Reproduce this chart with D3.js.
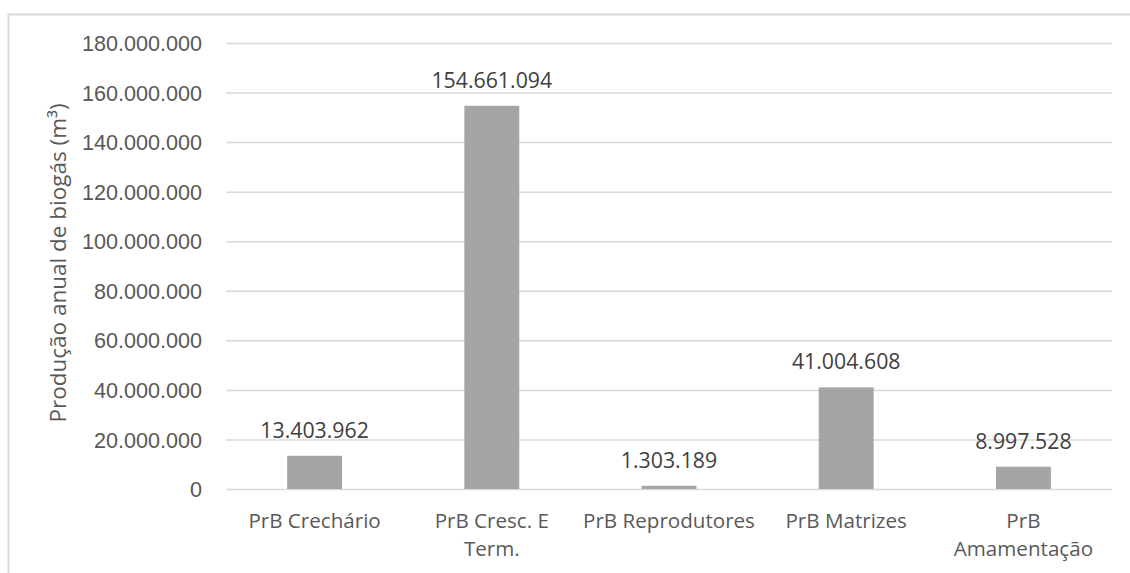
<!DOCTYPE html>
<html>
<head>
<meta charset="utf-8">
<script src="https://cdn.jsdelivr.net/npm/d3@7"></script>
<style>
  html, body { margin: 0; padding: 0; background: #fff; }
  svg { display: block; font-family: "Open Sans", sans-serif; }
</style>
</head>
<body>
<svg id="chart" width="1130" height="573"></svg>
<script>
// Produção anual de biogás por categoria de rebanho
const categories = [
  ["PrB Crechário"],
  ["PrB Cresc. E", "Term."],
  ["PrB Reprodutores"],
  ["PrB Matrizes"],
  ["PrB", "Amamentação"]
];
const values = [13403962, 154661094, 1303189, 41004608, 8997528];
const yTicks = [0, 20000000, 40000000, 60000000, 80000000, 100000000, 120000000, 140000000, 160000000, 180000000];
const yTitle = "Produção anual de biogás (m³)";

const svg = d3.select("#chart");
const W = 1130, H = 573;
const plot = { left: 226, right: 1112, top: 43, bottom: 489 };

const fmt = d3.formatLocale({ decimal: ",", thousands: ".", grouping: [3], currency: ["", ""] }).format(",d");

// Outer chart frame
svg.append("rect")
  .attr("x", 8.5).attr("y", 14.5)
  .attr("width", W + 10).attr("height", H + 10)
  .attr("fill", "none").attr("stroke", "#D9D9D9").attr("stroke-width", 2);

const x = d3.scaleBand()
  .domain(d3.range(categories.length))
  .range([plot.left, plot.right])
  .paddingInner(0.69).paddingOuter(0.345);

const y = d3.scaleLinear()
  .domain([0, 180000000])
  .range([plot.bottom, plot.top]);

// Gridlines + tick labels
const yAxis = d3.axisLeft(y)
  .tickValues(yTicks)
  .tickFormat(fmt)
  .tickSize(-(plot.right - plot.left))
  .tickPadding(24);

const gy = svg.append("g")
  .attr("transform", `translate(${plot.left},0)`)
  .call(yAxis);
gy.select(".domain").remove();
gy.selectAll(".tick line").attr("stroke", "#D9D9D9").attr("stroke-width", 1.5);
gy.selectAll(".tick text")
  .attr("fill", "#595959")
  .attr("font-size", 21.6)
  .attr("dy", "0.35em");

// Bars
svg.append("g").selectAll("rect")
  .data(values)
  .join("rect")
  .attr("x", (d, i) => x(i))
  .attr("width", x.bandwidth())
  .attr("y", d => y(d))
  .attr("height", d => y(0) - y(d))
  .attr("fill", "#A5A5A5");

// Value labels
svg.append("g").selectAll("text")
  .data(values)
  .join("text")
  .attr("x", (d, i) => x(i) + x.bandwidth() / 2)
  .attr("y", d => y(d) - 18)
  .attr("text-anchor", "middle")
  .attr("fill", "#404040")
  .attr("font-size", 21.3)
  .text(d => fmt(d));

// Category labels
const gx = svg.append("g").selectAll("text")
  .data(categories)
  .join("text")
  .attr("x", (d, i) => x(i) + x.bandwidth() / 2)
  .attr("y", 528)
  .attr("text-anchor", "middle")
  .attr("fill", "#595959")
  .attr("font-size", 20.6);
gx.selectAll("tspan")
  .data(d => d)
  .join("tspan")
  .attr("x", function () { return d3.select(this.parentNode).attr("x"); })
  .attr("dy", (d, j) => j === 0 ? 0 : 28)
  .text(d => d);

// Axis title
svg.append("text")
  .attr("transform", `translate(66,${263}) rotate(-90)`)
  .attr("text-anchor", "middle")
  .attr("fill", "#595959")
  .attr("font-size", 22.5)
  .text(yTitle);
</script>
</body>
</html>
